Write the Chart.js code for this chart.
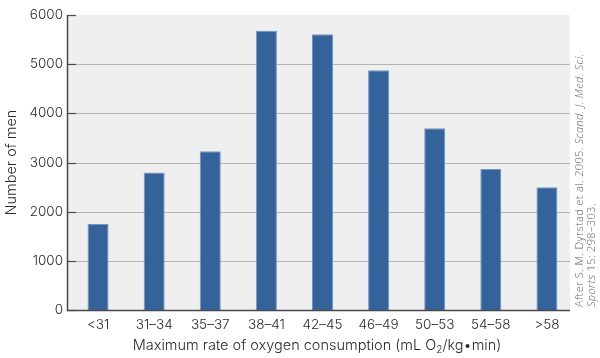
<!DOCTYPE html>
<html>
<head>
<meta charset="utf-8">
<script src="https://cdn.jsdelivr.net/npm/chart.js@4.4.1/dist/chart.umd.min.js"></script>
<style>
html,body{margin:0;padding:0;background:#fff;}
#wrap{width:600px;height:358px;position:relative;}
</style>
</head>
<body>
<div id="wrap"><canvas id="c" width="600" height="358"></canvas></div>
<script>
const categories = ['<31', '31–34', '35–37', '38–41', '42–45', '46–49', '50–53', '54–58', '>58'];
const menCounts = [1750, 2800, 3230, 5680, 5610, 4880, 3700, 2870, 2500];
const yTickValues = [0, 1000, 2000, 3000, 4000, 5000, 6000];
const yAxisTitle = 'Number of men';
const xAxisTitleParts = ['Maximum rate of oxygen consumption (mL O', '2', '/kg•min)'];
const creditLine1 = [['After S. M. Dyrstad et al. 2005. ', false], ['Scand. J. Med. Sci.', true]];
const creditLine2 = [['Sports', true], [' 15: 298–303.', false]];

const FONT = 'Inter, "Liberation Sans", sans-serif';
const PLOT_LEFT = 67, PLOT_RIGHT = 570;

const framePlugin = {
  id: 'frame',
  beforeDraw(chart) {
    const {ctx} = chart;
    const y = chart.scales.y;
    ctx.save();
    ctx.fillStyle = '#efefef';
    const top = y.getPixelForValue(6000), bottom = y.getPixelForValue(0);
    ctx.fillRect(PLOT_LEFT, top, PLOT_RIGHT - PLOT_LEFT, bottom - top);
    ctx.strokeStyle = '#b5b5b5';
    ctx.lineWidth = 1;
    yTickValues.forEach(v => {
      if (v === 0 || v === 6000) return;
      const py = Math.round(y.getPixelForValue(v)) + 0.5;
      ctx.beginPath(); ctx.moveTo(PLOT_LEFT, py); ctx.lineTo(PLOT_RIGHT, py); ctx.stroke();
    });
    ctx.restore();
  },
  afterDatasetsDraw(chart) {
    const {ctx} = chart;
    const y = chart.scales.y;
    const top = y.getPixelForValue(6000), bottom = y.getPixelForValue(0);
    ctx.save();
    ctx.strokeStyle = '#4a4a4a';
    ctx.lineWidth = 1.5;
    ctx.beginPath();
    ctx.moveTo(PLOT_LEFT + 0.5, top);
    ctx.lineTo(PLOT_LEFT + 0.5, bottom + 0.5);
    ctx.lineTo(PLOT_RIGHT, bottom + 0.5);
    ctx.stroke();
    ctx.lineWidth = 1.2;
    yTickValues.forEach(v => {
      const py = Math.round(y.getPixelForValue(v)) + 0.5;
      ctx.beginPath(); ctx.moveTo(PLOT_LEFT, py); ctx.lineTo(PLOT_LEFT + 9, py); ctx.stroke();
    });

    // axis titles
    ctx.fillStyle = '#2a2a2a';
    ctx.font = '300 14.5px ' + FONT;
    ctx.textBaseline = 'middle';
    ctx.textAlign = 'center';
    ctx.save();
    ctx.translate(12, (top + bottom) / 2);
    ctx.rotate(-Math.PI / 2);
    ctx.fillText(yAxisTitle, 0, 0);
    ctx.restore();

    // x title with subscript
    const mainFont = '300 14.5px ' + FONT, subFont = '300 10px ' + FONT;
    ctx.textAlign = 'left';
    ctx.textBaseline = 'alphabetic';
    ctx.font = mainFont; const w1 = ctx.measureText(xAxisTitleParts[0]).width;
    ctx.font = subFont; const w2 = ctx.measureText(xAxisTitleParts[1]).width;
    ctx.font = mainFont; const w3 = ctx.measureText(xAxisTitleParts[2]).width;
    const total = w1 + w2 + w3;
    let x0 = 317 - total / 2;
    const base = 350;
    ctx.font = mainFont; ctx.fillText(xAxisTitleParts[0], x0, base); x0 += w1;
    ctx.font = subFont; ctx.fillText(xAxisTitleParts[1], x0, base + 3); x0 += w2;
    ctx.font = mainFont; ctx.fillText(xAxisTitleParts[2], x0, base);

    // credit (rotated)
    const drawCredit = (parts, bx) => {
      ctx.save();
      ctx.translate(bx, 307);
      ctx.rotate(-Math.PI / 2);
      ctx.fillStyle = '#666666';
      ctx.textAlign = 'left';
      ctx.textBaseline = 'alphabetic';
      try { ctx.letterSpacing = '0.35px'; } catch (e) {}
      let cx = 0;
      parts.forEach(([t, it]) => {
        ctx.font = (it ? 'italic ' : '') + '300 11px "Open Sans", sans-serif';
        ctx.fillText(t, cx, 0);
        cx += ctx.measureText(t).width;
      });
      ctx.restore();
    };
    drawCredit(creditLine1, 583);
    drawCredit(creditLine2, 595);
    ctx.restore();
  }
};

new Chart(document.getElementById('c'), {
  type: 'bar',
  data: {
    labels: categories,
    datasets: [{
      data: menCounts,
      backgroundColor: '#34639b',
      borderColor: '#7596c2',
      borderWidth: 1,
      barPercentage: 0.375,
      categoryPercentage: 1
    }]
  },
  options: {
    responsive: false,
    animation: false,
    layout: {padding: {top: 13, right: 25, left: 0, bottom: 0}},
    plugins: {legend: {display: false}, tooltip: {enabled: false}},
    scales: {
      x: {
        grid: {display: false, drawTicks: false},
        border: {display: false},
        ticks: {
          color: '#2a2a2a',
          font: {family: FONT, size: 13.5, weight: 300},
          padding: 7,
          autoSkip: false,
          maxRotation: 0
        },
        afterFit(s) { s.height = 48; }
      },
      y: {
        min: 0, max: 6000,
        grid: {display: false, drawTicks: false},
        border: {display: false},
        afterBuildTicks(s) { s.ticks = yTickValues.map(v => ({value: v})); },
        ticks: {
          color: '#2a2a2a',
          font: {family: FONT, size: 13.5, weight: 300},
          padding: 7,
          callback: (v) => String(v)
        },
        afterFit(s) { s.width = 70; }
      }
    }
  },
  plugins: [framePlugin]
});
</script>
</body>
</html>
